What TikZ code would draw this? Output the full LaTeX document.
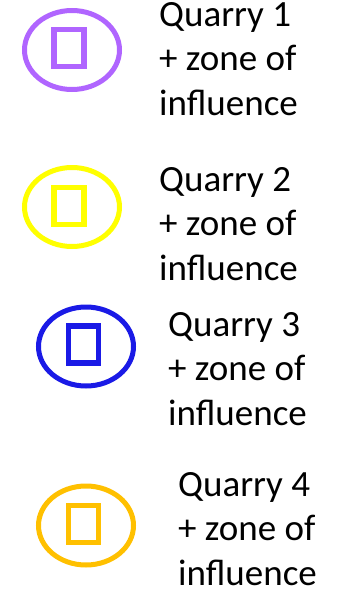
\documentclass[tikz,border=0pt]{standalone}
\usepackage{fontspec}
\setmainfont{Carlito}
\usetikzlibrary{shapes.geometric}
\definecolor{qpurple}{HTML}{B065FF}
\definecolor{qyellow}{HTML}{FFFF00}
\definecolor{qblue}{HTML}{1A1AE6}
\definecolor{qorange}{HTML}{FFC000}
\tikzset{
  zone/.style={draw=#1, ellipse, line width=5pt, minimum width=95pt, minimum height=79pt, inner sep=0pt},
  pit/.style={draw=#1, rectangle, line width=5.5pt, minimum width=30pt, minimum height=37pt, inner sep=0pt},
  lbl/.style={anchor=base west, align=left, inner sep=0pt, font=\fontsize{37}{44.5}\selectfont}
}
\begin{document}
\begin{tikzpicture}[x=1pt,y=-1pt]
\useasboundingbox (0,0) rectangle (349,592);
\node[zone=qpurple] (z1) at (72,50) {};
\node[pit=qpurple] (p1) at (69,48) {};
\node[lbl] (t1) at (159,115) {Quarry 1\\+ zone of\\influence};
\node[zone=qyellow] (z2) at (72,207) {};
\node[pit=qyellow] (p2) at (69,206) {};
\node[lbl] (t2) at (159,280) {Quarry 2\\+ zone of\\influence};
\node[zone=qblue] (z3) at (86,346.5) {};
\node[pit=qblue] (p3) at (83.5,344.5) {};
\node[lbl] (t3) at (168,425) {Quarry 3\\+ zone of\\influence};
\node[zone=qorange] (z4) at (86,525.5) {};
\node[pit=qorange] (p4) at (83.5,524) {};
\node[lbl] (t4) at (178,585) {Quarry 4\\+ zone of\\influence};
\end{tikzpicture}
\end{document}
